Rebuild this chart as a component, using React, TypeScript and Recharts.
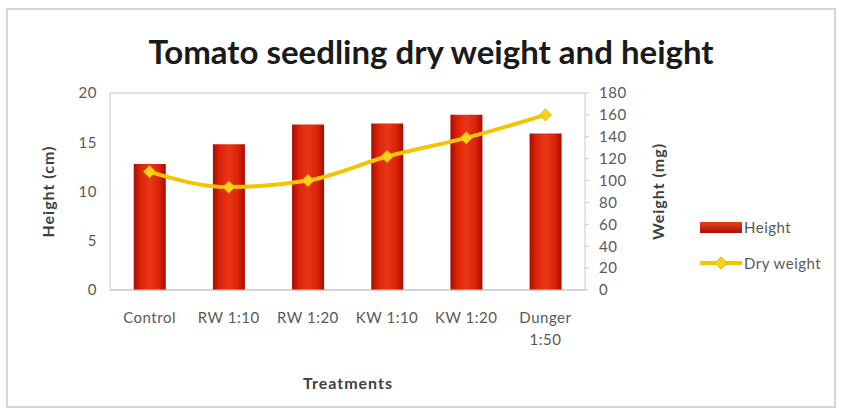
import { ComposedChart, Bar, Line, XAxis, YAxis, CartesianGrid, Text } from 'recharts';

const treatments = ['Control', 'RW 1:10', 'RW 1:20', 'KW 1:10', 'KW 1:20', 'Dunger 1:50'];
const heightCm = [12.8, 14.8, 16.8, 16.9, 17.8, 15.9];
const dryWeightMg = [108, 94, 100, 122, 139, 160];
const heightTicks = [0, 5, 10, 15, 20];
const weightTicks = [0, 20, 40, 60, 80, 100, 120, 140, 160, 180];

const data = treatments.map((t, i) => ({ name: t, height: heightCm[i], weight: dryWeightMg[i] }));

const FONT = 'Lato, "Open Sans", sans-serif';
const GREY = '#595959';
const tickStyle = { fontSize: 15, fill: GREY, fontFamily: FONT, letterSpacing: 0.5 };
const titleStyle = { textAnchor: 'middle', fontSize: 16, fontWeight: 700, fill: '#404040', fontFamily: FONT, letterSpacing: 1 };

const Diamond = (props: any) => {
    const { cx, cy } = props;
    if (cx == null || cy == null) return null;
    const s = 6;
    return <polygon points={`${cx},${cy - s} ${cx + s},${cy} ${cx},${cy + s} ${cx - s},${cy}`} fill="#f7d21a" stroke="#e8b800" strokeWidth={1} />;
};

const XTick = (props: any) => {
    const { x, y, payload } = props;
    return (
        <Text x={x} y={y} width={72} lineHeight={22} textAnchor="middle" verticalAnchor="start" style={tickStyle}>
            {payload.value}
        </Text>
    );
};

const LegendBox = () => (
    <svg width={140} height={70}>
        <defs>
            <linearGradient id="legBar" x1="0" y1="0" x2="0" y2="1">
                <stop offset="0%" stopColor="#e8401e" />
                <stop offset="100%" stopColor="#a81000" />
            </linearGradient>
        </defs>
        <rect x={5} y={7} width={42} height={11} fill="url(#legBar)" />
        <text x={49} y={18} fontSize={15} fill={GREY} fontFamily={FONT} letterSpacing={0.5}>Height</text>
        <line x1={5} y1={48} x2={47} y2={48} stroke="#f2c500" strokeWidth={4} />
        <Diamond cx={26} cy={48} />
        <text x={49} y={54} fontSize={15} fill={GREY} fontFamily={FONT} letterSpacing={0.5}>Dry weight</text>
    </svg>
);

export default function App() {
    return (
        <div style={{ position: 'absolute', left: 0, top: 0, width: 841, height: 412, background: '#fff' }}>
            <div style={{ position: 'absolute', left: 6, top: 8, width: 830, height: 400, border: '2px solid #d4d4d4', boxSizing: 'border-box' }} />
            <div style={{ position: 'absolute', left: 0, top: 31, width: 862, textAlign: 'center', fontFamily: FONT, fontWeight: 700, fontSize: 33, color: '#1a1a1a' }}>
                Tomato seedling dry weight and height
            </div>
            <div style={{ position: 'absolute', left: 0, top: 373, width: 696, textAlign: 'center', fontFamily: FONT, fontWeight: 700, fontSize: 16, letterSpacing: 1, color: '#404040' }}>
                Treatments
            </div>
            <div style={{ position: 'absolute', left: 695, top: 215 }}>
                <LegendBox />
            </div>
            <div style={{ position: 'absolute', left: 0, top: 0 }}>
                <ComposedChart width={841} height={412} data={data} margin={{ top: 93, right: 156, bottom: 62, left: 40 }} barCategoryGap="30%">
                    <defs>
                        <linearGradient id="barFill" x1="0" y1="0" x2="1" y2="0">
                            <stop offset="0%" stopColor="#a80c00" />
                            <stop offset="22%" stopColor="#dc2408" />
                            <stop offset="50%" stopColor="#e83618" />
                            <stop offset="78%" stopColor="#dc2408" />
                            <stop offset="100%" stopColor="#a80c00" />
                        </linearGradient>
                    </defs>
                    <CartesianGrid vertical={false} stroke="#d9d9d9" strokeWidth={1.5} />
                    <XAxis dataKey="name" height={60} tick={<XTick />} tickLine={false} axisLine={{ stroke: '#c8c8c8' }} interval={0} tickMargin={16} />
                    <YAxis yAxisId="h" domain={[0, 20]} ticks={heightTicks} interval={0} width={70} tickSize={4} tickMargin={9} tickLine={false}
                        axisLine={{ stroke: '#c8c8c8' }} tick={tickStyle}
                        label={{ value: 'Height (cm)', angle: -90, position: 'insideLeft', offset: 8, style: titleStyle }} />
                    <YAxis yAxisId="w" orientation="right" domain={[0, 180]} ticks={weightTicks} interval={0} width={100} tickSize={4} tickMargin={10}
                        tickLine={{ stroke: '#c8c8c8' }} axisLine={{ stroke: '#c8c8c8' }} tick={{ ...tickStyle, textAnchor: 'start' }}
                        label={{ value: 'Weight (mg)', angle: -90, position: 'insideLeft', offset: 73, style: titleStyle }} />
                    <Bar yAxisId="h" dataKey="height" name="Height" fill="url(#barFill)" isAnimationActive={false} />
                    <Line yAxisId="w" dataKey="weight" name="Dry weight" type="monotone" stroke="#f2c500" strokeWidth={4} dot={<Diamond />} activeDot={false} isAnimationActive={false} />
                </ComposedChart>
            </div>
        </div>
    );
}
